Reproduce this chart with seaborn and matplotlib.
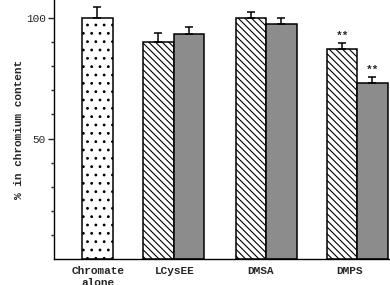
import numpy as np
import pandas as pd
import matplotlib
matplotlib.use("Agg")
import matplotlib.pyplot as plt
import seaborn as sns

# ---- data ----
groups = ["Chromate\nalone", "LCysEE", "DMSA", "DMPS"]
series = ["Chromate alone", "Chelator A", "Chelator B"]
bar_group = [0, 1, 1, 2, 2, 3, 3]
bar_series = [0, 1, 2, 1, 2, 1, 2]
values = [100.0, 90.2, 93.4, 100.0, 97.5, 87.3, 72.9]
errors = [4.8, 3.8, 3.0, 2.5, 2.5, 2.3, 2.7]
signif = ["", "", "", "", "", "**", "**"]
yticks_major = [50, 100]

# ---- layout ----
sns.set_theme(style="white")
plt.rcParams["font.family"] = ["Liberation Mono", "DejaVu Sans Mono"]
plt.rcParams["font.weight"] = "bold"
plt.rcParams["hatch.linewidth"] = 0.8

group_centers = [0.178, 1.0, 2.0, 2.985]
label_pos = [0.184, 1.016, 1.943, 2.897]
bw = 0.33
pos = []
for g, s in zip(bar_group, bar_series):
    if s == 0:
        pos.append(group_centers[g])
    elif s == 1:
        pos.append(group_centers[g] - bw / 2)
    else:
        pos.append(group_centers[g] + bw / 2)

df = pd.DataFrame({"pos": pos, "value": values,
                   "series": [series[s] for s in bar_series]})

fig = plt.figure(figsize=(3.9, 2.85), dpi=100)
ax = fig.add_axes([54 / 390, 26 / 285, 336 / 390, 259 / 285])

palette = {series[0]: "white", series[1]: "white", series[2]: "#8c8c8c"}
hatches = {series[0]: "..", series[1]: "\\\\\\\\\\", series[2]: ""}
sns.barplot(data=df, x="pos", y="value", hue="series", hue_order=series,
            palette=palette, native_scale=True, dodge=False, width=1.0,
            edgecolor="black", linewidth=1.1, legend=False, ax=ax,
            errorbar=None)

for cont, s in zip(ax.containers, series):
    for p in cont:
        p.set_hatch(hatches[s])
        p.set_edgecolor("black")

ax.errorbar(pos, values, yerr=[np.zeros(len(errors)), errors], fmt="none",
            ecolor="black", elinewidth=1.1, capsize=3, capthick=1.1, zorder=5)

for x, v, e, t in zip(pos, values, errors, signif):
    if t:
        ax.text(x, v + e + 0.8, t, ha="center", va="bottom", fontsize=8,
                fontweight="bold")

ax.set_xlim(-0.292, 3.34)
ax.set_ylim(0, 107.5)
ax.set_xticks(label_pos)
ax.set_xticklabels(groups, fontsize=8, fontweight="bold")
ax.tick_params(axis="x", length=0, pad=5)
ax.set_yticks(yticks_major)
ax.set_yticklabels([str(v) for v in yticks_major], fontsize=8,
                   fontweight="normal")
ax.set_yticks([v for v in range(10, 100, 10) if v not in yticks_major], minor=True)
ax.tick_params(axis="y", which="major", direction="out", length=4, width=1,
               left=True, pad=2)
ax.tick_params(axis="y", which="minor", direction="out", length=2.5, width=1,
               left=True)
ax.set_xlabel("")
ax.set_ylabel("% in chromium content", fontsize=8, fontweight="bold", labelpad=1)

for side in ["top", "right"]:
    ax.spines[side].set_visible(False)
for side in ["left", "bottom"]:
    ax.spines[side].set_color("black")
    ax.spines[side].set_linewidth(1.0)

fig.savefig("out.png", dpi=100)
